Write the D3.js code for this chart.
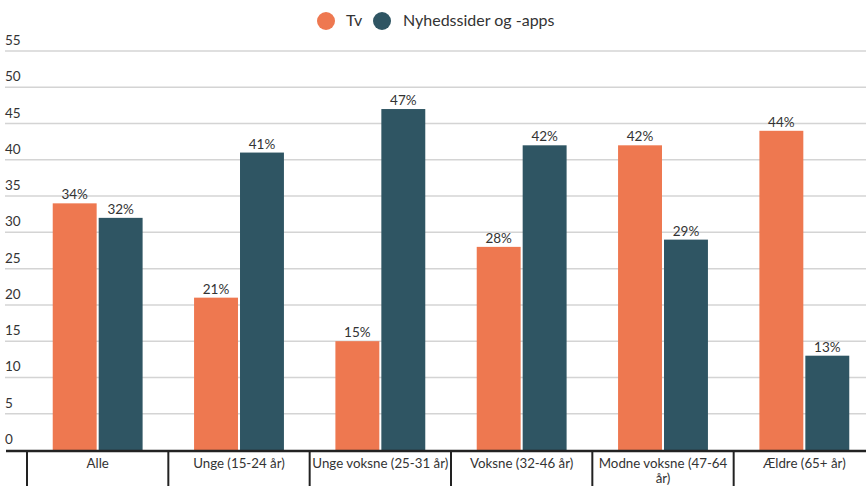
<!DOCTYPE html>
<html><head><meta charset="utf-8">
<script src="https://cdn.jsdelivr.net/npm/d3@7"></script>
<style>body{margin:0;background:#fff;overflow:hidden}svg{display:block;font-family:Lato,"Open Sans",sans-serif}</style>
</head><body>
<script>
const categories = ["Alle","Unge (15-24 år)","Unge voksne (25-31 år)","Voksne (32-46 år)","Modne voksne (47-64 år)","Ældre (65+ år)"];
const seriesNames = ["Tv","Nyhedssider og -apps"];
const tvValues = [34,21,15,28,42,44];
const newsValues = [32,41,47,42,29,13];
const yTicks = [0,5,10,15,20,25,30,35,40,45,50,55];
const colors = ["#EE7850","#2F5563"];

const W=866,H=486;
const svg=d3.select("body").append("svg").attr("width",W).attr("height",H);
const y=d3.scaleLinear().domain([0,55]).range([450,51]);
const x=d3.scaleBand().domain(categories).range([27,875]).paddingInner(0).paddingOuter(0);
const x1=d3.scaleBand().domain(seriesNames).range([0,x.bandwidth()]).paddingInner(0.044).paddingOuter(0.56);

// gridlines
const grid=svg.append("g");
yTicks.filter(t=>t>0).forEach(t=>{
  grid.append("line").attr("x1",5).attr("x2",W).attr("y1",y(t)).attr("y2",y(t)).attr("stroke","#d4d4d4").attr("stroke-width",1.5);
});
yTicks.forEach(t=>{
  svg.append("text").attr("x",5).attr("y",y(t)-6).text(t).attr("font-size",13.5).attr("fill","#333");
});

const series=[tvValues,newsValues];
categories.forEach((c,i)=>{
  seriesNames.forEach((s,j)=>{
    const v=series[j][i];
    const bx=x(c)+x1(s);
    svg.append("rect").attr("x",bx).attr("y",y(v)).attr("width",x1.bandwidth()).attr("height",y(0)-y(v)).attr("fill",colors[j]);
    svg.append("text").attr("x",bx+x1.bandwidth()/2).attr("y",y(v)-4).attr("text-anchor","middle").attr("font-size",13.5).attr("fill","#333").text(v+"%");
  });
});

// axis
svg.append("line").attr("x1",6).attr("x2",W).attr("y1",451).attr("y2",451).attr("stroke","#222").attr("stroke-width",2.5);
categories.forEach((c,i)=>{
  svg.append("line").attr("x1",x(c)).attr("x2",x(c)).attr("y1",451).attr("y2",H).attr("stroke","#222").attr("stroke-width",2);
  const cx=x(c)+x.bandwidth()/2;
  const t=svg.append("text").attr("text-anchor","middle").attr("font-size",13.3).attr("fill","#333");
  if(c==="Modne voksne (47-64 år)"){
    t.append("tspan").attr("x",cx).attr("y",468).text("Modne voksne (47-64");
    t.append("tspan").attr("x",cx).attr("y",483).text("år)");
  } else {
    t.attr("x",cx).attr("y",468).text(c);
  }
});

// legend
const lg=svg.append("g");
lg.append("circle").attr("cx",326).attr("cy",21).attr("r",9).attr("fill",colors[0]);
lg.append("text").attr("x",346).attr("y",26).attr("font-size",16).attr("fill","#333").text(seriesNames[0]);
lg.append("circle").attr("cx",382).attr("cy",21).attr("r",9).attr("fill",colors[1]);
lg.append("text").attr("x",403).attr("y",26).attr("font-size",16).attr("fill","#333").text(seriesNames[1]);
</script>
</body></html>
